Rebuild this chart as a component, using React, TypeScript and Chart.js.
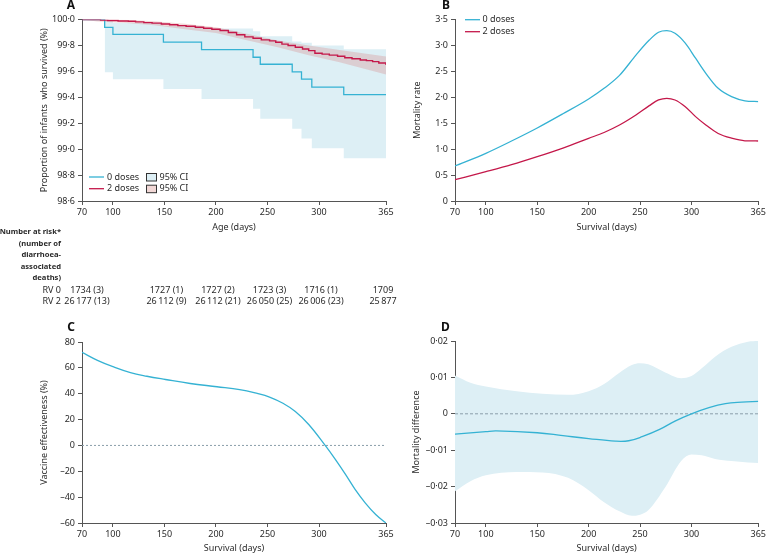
import React, { useEffect, useRef } from 'react';
import { Chart, registerables } from 'chart.js';
Chart.register(...registerables);

const FONT = "'Noto Sans', 'DejaVu Sans', sans-serif";
const BLUE = '#35b2d3';
const BLUE_FILL = '#ddeff5';
const RED = '#c4184a';
const RED_FILL = 'rgba(214, 128, 128, 0.3)';
const AXIS = '#555';
const TEXT = '#2a2a2a';
const ZERO = '#8a9eaa';

// shared x ticks (days)
const xTicks = [70, 100, 150, 200, 250, 300, 365];

// ---------- Panel A: Kaplan-Meier ----------
const aYTicks = [98.6, 98.8, 99.0, 99.2, 99.4, 99.6, 99.8, 100.0];
const km0Days = [70, 92, 100, 149, 186, 236, 243, 274, 283, 293, 324, 365];
const km0Surv = [100, 99.94, 99.886, 99.825, 99.768, 99.709, 99.655, 99.596, 99.54, 99.478, 99.42, 99.42];
const ci0Days = [92, 100, 149, 186, 236, 243, 274, 283, 293, 324, 365];
const ci0Lower = [99.594, 99.54, 99.463, 99.386, 99.311, 99.235, 99.158, 99.083, 99.006, 98.929, 98.929];
const ci0Upper = [99.99, 99.975, 99.95, 99.93, 99.91, 99.87, 99.83, 99.82, 99.8, 99.77, 99.77];
const km2Days = [70, 83, 88, 95, 105, 115, 122, 130, 138, 147, 155, 163, 171, 180, 188, 196, 204, 212, 220, 228, 236, 244, 252, 258, 264, 270, 277, 284, 290, 296, 303, 310, 318, 325, 332, 340, 346, 352, 358, 365];
const km2Surv = [100, 100, 99.995, 99.992, 99.989, 99.986, 99.982, 99.976, 99.972, 99.965, 99.96, 99.953, 99.948, 99.94, 99.932, 99.925, 99.915, 99.9, 99.882, 99.866, 99.855, 99.843, 99.835, 99.824, 99.81, 99.8, 99.786, 99.773, 99.76, 99.74, 99.733, 99.725, 99.716, 99.705, 99.697, 99.688, 99.683, 99.675, 99.664, 99.65];
const ci2Days = [70, 85, 110, 140, 170, 200, 230, 260, 290, 320, 365];
const ci2Upper = [100, 100, 99.998, 99.987, 99.968, 99.94, 99.89, 99.838, 99.8, 99.765, 99.715];
const ci2Lower = [100, 99.985, 99.975, 99.955, 99.925, 99.895, 99.84, 99.785, 99.725, 99.67, 99.575];

// number at risk table
const riskDays = [70, 150, 200, 250, 300, 365];
const riskRV0 = ['1734 (3)', '1727 (1)', '1727 (2)', '1723 (3)', '1716 (1)', '1709'];
const riskRV2 = ['26\u2009177 (13)', '26\u2009112 (9)', '26\u2009112 (21)', '26\u2009050 (25)', '26\u2009006 (23)', '25\u2009877'];
const riskHeader = ['Number at risk*', '(number of', 'diarrhoea-', 'associated', 'deaths)'];
const riskRowLabels = ['RV 0', 'RV 2'];

// ---------- Panel B: mortality rate ----------
const bYTicks = [0, 0.5, 1.0, 1.5, 2.0, 2.5, 3.0, 3.5];
const bDays = [70, 100, 125, 150, 175, 200, 215, 230, 246, 259, 268, 276, 284, 294, 304, 314, 326, 339, 352, 365];
const b0Dose = [0.674, 0.918, 1.155, 1.406, 1.68, 1.965, 2.17, 2.42, 2.81, 3.1, 3.25, 3.28, 3.23, 3.04, 2.75, 2.46, 2.17, 2.01, 1.93, 1.915];
const b2Dose = [0.411, 0.565, 0.7, 0.854, 1.02, 1.207, 1.32, 1.464, 1.657, 1.837, 1.946, 1.978, 1.946, 1.817, 1.625, 1.464, 1.3, 1.21, 1.16, 1.156];

// ---------- Panel C: vaccine effectiveness ----------
const cYTicks = [-60, -40, -20, 0, 20, 40, 60, 80];
const cDays = [70, 85, 100, 117, 133, 151, 175, 201, 223, 240, 252, 265, 277, 290, 306, 316, 326, 335, 345, 355, 365];
const cVE = [72, 65.8, 60.9, 56.3, 53.5, 51.0, 47.9, 45.4, 43.2, 40.2, 37.4, 32.6, 26.2, 16.2, 0, -11, -22.8, -34, -44.6, -53.4, -60];

// ---------- Panel D: mortality difference ----------
const dYTicks = [-0.03, -0.02, -0.01, 0, 0.01, 0.02];
const dDays = [70, 100, 110, 150, 175, 200, 226, 239, 252, 269, 284, 300, 317, 333, 349, 365];
const dDiff = [-0.0056, -0.0049, -0.0047, -0.0052, -0.006, -0.0068, -0.0075, -0.0074, -0.0063, -0.0043, -0.002, 0, 0.0017, 0.0028, 0.0032, 0.0034];
const dBandDays = [70, 85, 100, 130, 155, 180, 200, 215, 230, 242, 250, 258, 275, 290, 300, 310, 323, 339, 355, 365];
const dUpper = [0.0105, 0.0085, 0.0075, 0.0062, 0.0055, 0.0052, 0.0062, 0.0082, 0.0113, 0.0134, 0.0139, 0.0136, 0.0113, 0.0098, 0.0104, 0.0125, 0.0157, 0.0184, 0.0198, 0.02];
const dLower = [-0.0213, -0.0185, -0.0169, -0.016, -0.0161, -0.0176, -0.021, -0.0243, -0.0268, -0.028, -0.0277, -0.0265, -0.02, -0.013, -0.0112, -0.0114, -0.0124, -0.013, -0.0134, -0.0135];

const zeroDays = [70, 365];
const zeroVals = [0, 0];

const pts = (xs: number[], ys: number[]) => xs.map((x, i) => ({ x, y: ys[i] }));

const fmt = (v: number, d: number) => {
  if (Math.abs(v) < 1e-9) return '0';
  const s = Math.abs(v).toFixed(d).replace('.', '\u00b7');
  return (v < 0 ? '\u2013' : '') + s;
};

const tickFont = { family: FONT, size: 9 };

function xAxis(title: string, h: number, titlePad: number) {
  return {
    type: 'linear',
    min: 70,
    max: 365,
    afterBuildTicks: (s: any) => { s.ticks = xTicks.map((v) => ({ value: v })); },
    afterFit: (s: any) => { s.height = h; },
    grid: { display: true, drawOnChartArea: false, drawTicks: true, tickLength: 4, color: AXIS, tickColor: AXIS },
    border: { display: true, color: AXIS, width: 1 },
    ticks: { font: tickFont, color: TEXT, padding: 2, maxRotation: 0, autoSkip: false, callback: (v: any) => String(v) },
    title: { display: true, text: title, font: tickFont, color: TEXT, padding: { top: titlePad, bottom: 0 } },
  };
}

function yAxis(min: number, max: number, ticks: number[], d: number, title: string, w: number, titlePad: number) {
  return {
    type: 'linear',
    min,
    max,
    afterBuildTicks: (s: any) => { s.ticks = ticks.map((v) => ({ value: v })); },
    afterFit: (s: any) => { s.width = w; },
    grid: { display: true, drawOnChartArea: false, drawTicks: true, tickLength: 4, color: AXIS, tickColor: AXIS },
    border: { display: true, color: AXIS, width: 1 },
    ticks: { font: tickFont, color: TEXT, padding: 3, autoSkip: false, callback: (v: any) => fmt(Number(v), d) },
    title: { display: true, text: title, font: tickFont, color: TEXT, padding: { top: titlePad, bottom: 0 } },
  };
}

type LegendItem = { kind: 'line' | 'box'; color: string; fill?: string; text: string; x: number; y: number; tx: number };

function legendPlugin(items: LegendItem[]) {
  return {
    id: 'customLegend',
    afterDraw(chart: any) {
      const ctx = chart.ctx as CanvasRenderingContext2D;
      ctx.save();
      ctx.font = `9px ${FONT}`;
      ctx.textBaseline = 'middle';
      ctx.textAlign = 'left';
      for (const it of items) {
        if (it.kind === 'line') {
          ctx.strokeStyle = it.color;
          ctx.lineWidth = 1.3;
          ctx.beginPath();
          ctx.moveTo(it.x, it.y);
          ctx.lineTo(it.x + 15, it.y);
          ctx.stroke();
        } else {
          ctx.fillStyle = it.fill || '#fff';
          ctx.fillRect(it.x + 0.5, it.y - 3.5, 10, 7.5);
          ctx.strokeStyle = it.color;
          ctx.lineWidth = 1;
          ctx.strokeRect(it.x + 0.5, it.y - 3.5, 10, 7.5);
        }
        ctx.fillStyle = TEXT;
        ctx.fillText(it.text, it.tx, it.y);
      }
      ctx.restore();
    },
  };
}

const riskPlugin = {
  id: 'riskTable',
  afterDraw(chart: any) {
    const ctx = chart.ctx as CanvasRenderingContext2D;
    const xs = chart.scales.x;
    ctx.save();
    ctx.fillStyle = TEXT;
    ctx.textBaseline = 'middle';
    ctx.font = `bold 7.6px ${FONT}`;
    ctx.textAlign = 'right';
    riskHeader.forEach((t, i) => ctx.fillText(t, 61, 231.7 + i * 11.65));
    ctx.font = `9px ${FONT}`;
    riskRowLabels.forEach((t, i) => ctx.fillText(t, 61, 290 + i * 11.8));
    ctx.textAlign = 'center';
    const last = riskDays.length - 1;
    riskDays.forEach((d, i) => {
      const px = xs.getPixelForValue(d) + (i === 0 ? 5 : i === last ? -3 : 2);
      ctx.fillText(riskRV0[i], px, 290);
      ctx.fillText(riskRV2[i], px, 301.8);
    });
    ctx.restore();
  },
};

function baseOptions(padding: any, scales: any) {
  return {
    responsive: false,
    maintainAspectRatio: false,
    animation: false,
    devicePixelRatio: 1,
    events: [],
    layout: { padding },
    plugins: { legend: { display: false }, tooltip: { enabled: false }, title: { display: false } },
    elements: { point: { radius: 0 } },
    scales,
  };
}

function configA(): any {
  return {
    type: 'line',
    data: {
      datasets: [
        { data: pts(ci0Days, ci0Lower), borderWidth: 0, borderColor: 'transparent', stepped: 'before', fill: false, order: 5 },
        { data: pts(ci0Days, ci0Upper), borderWidth: 0, borderColor: 'transparent', stepped: 'before', fill: 0, backgroundColor: BLUE_FILL, order: 4 },
        { data: pts(ci2Days, ci2Lower), borderWidth: 0, borderColor: 'transparent', fill: false, order: 3 },
        { data: pts(ci2Days, ci2Upper), borderWidth: 0, borderColor: 'transparent', fill: 2, backgroundColor: RED_FILL, order: 2 },
        { data: pts(km0Days, km0Surv), borderColor: BLUE, borderWidth: 1.3, stepped: 'before', fill: false, order: 1 },
        { data: pts(km2Days, km2Surv), borderColor: RED, borderWidth: 1.4, stepped: 'before', fill: false, order: 0 },
      ],
    },
    options: baseOptions(
      { left: 0, right: 14, top: 19.5, bottom: 82 },
      {
        x: xAxis('Age (days)', 32, 2),
        y: yAxis(98.6, 100, aYTicks, 1, 'Proportion of infants  who survived (%)', 82, 38.6),
      }
    ),
    plugins: [
      legendPlugin([
        { kind: 'line', color: BLUE, text: '0 doses', x: 89, y: 177, tx: 107 },
        { kind: 'box', color: '#333', fill: BLUE_FILL, text: '95% CI', x: 146, y: 177, tx: 159.5 },
        { kind: 'line', color: RED, text: '2 doses', x: 89, y: 188.7, tx: 107 },
        { kind: 'box', color: '#333', fill: '#f2d8d6', text: '95% CI', x: 146, y: 188.7, tx: 159.5 },
      ]),
      riskPlugin,
    ],
  };
}

function configB(): any {
  return {
    type: 'line',
    data: {
      datasets: [
        { data: pts(bDays, b0Dose), borderColor: BLUE, borderWidth: 1.3, cubicInterpolationMode: 'monotone', fill: false },
        { data: pts(bDays, b2Dose), borderColor: RED, borderWidth: 1.3, cubicInterpolationMode: 'monotone', fill: false },
      ],
    },
    options: baseOptions(
      { left: 0, right: 8, top: 19.3, bottom: 7 },
      {
        x: xAxis('Survival (days)', 32, 2),
        y: yAxis(0, 3.5, bYTicks, 1, 'Mortality rate', 71, 27.6),
      }
    ),
    plugins: [
      legendPlugin([
        { kind: 'line', color: BLUE, text: '0 doses', x: 81, y: 19.7, tx: 98.5 },
        { kind: 'line', color: RED, text: '2 doses', x: 81, y: 31.7, tx: 98.5 },
      ]),
    ],
  };
}

function configC(): any {
  return {
    type: 'line',
    data: {
      datasets: [
        { data: pts(zeroDays, zeroVals), borderColor: ZERO, borderWidth: 1, borderDash: [2, 2], fill: false, order: 1 },
        { data: pts(cDays, cVE), borderColor: BLUE, borderWidth: 1.3, tension: 0.4, fill: false, order: 0 },
      ],
    },
    options: baseOptions(
      { left: 0, right: 14, top: 30, bottom: 0 },
      {
        x: xAxis('Survival (days)', 31, 0),
        y: yAxis(-60, 80, cYTicks, 0, 'Vaccine effectiveness (%)', 82, 38.6),
      }
    ),
  };
}

function configD(): any {
  return {
    type: 'line',
    data: {
      datasets: [
        { data: pts(dBandDays, dLower), borderWidth: 0, borderColor: 'transparent', cubicInterpolationMode: 'monotone', fill: false, order: 4 },
        { data: pts(dBandDays, dUpper), borderWidth: 0, borderColor: 'transparent', cubicInterpolationMode: 'monotone', fill: 0, backgroundColor: BLUE_FILL, order: 3 },
        { data: pts(zeroDays, zeroVals), borderColor: ZERO, borderWidth: 1, borderDash: [3, 2], fill: false, order: 1 },
        { data: pts(dDays, dDiff), borderColor: BLUE, borderWidth: 1.3, tension: 0.4, fill: false, order: 0 },
      ],
    },
    options: baseOptions(
      { left: 0, right: 8, top: 29, bottom: 0 },
      {
        x: xAxis('Survival (days)', 31, 0),
        y: yAxis(-0.03, 0.02, dYTicks, 2, 'Mortality difference', 71, 27),
      }
    ),
  };
}

function Panel({ left, top, width, height, make }: { left: number; top: number; width: number; height: number; make: () => any }) {
  const ref = useRef<HTMLCanvasElement>(null);
  useEffect(() => {
    const chart = new Chart(ref.current as HTMLCanvasElement, make());
    return () => chart.destroy();
  }, []);
  return (
    <div style={{ position: 'absolute', left, top, width, height }}>
      <canvas ref={ref} width={width} height={height} style={{ width, height, display: 'block' }} />
    </div>
  );
}

function Letter({ x, y, t }: { x: number; y: number; t: string }) {
  return (
    <div
      style={{
        position: 'absolute',
        left: x,
        top: y,
        transform: 'translate(-50%, -50%)',
        font: `bold 12px ${FONT}`,
        color: '#111',
        lineHeight: '12px',
      }}
    >
      {t}
    </div>
  );
}

export default function App() {
  return (
    <div style={{ position: 'absolute', left: 0, top: 0, width: 768, height: 554, background: '#fff', overflow: 'hidden' }}>
      <Panel left={0} top={0} width={400} height={315} make={configA} />
      <Panel left={384} top={0} width={384} height={240} make={configB} />
      <Panel left={0} top={312} width={400} height={242} make={configC} />
      <Panel left={384} top={312} width={384} height={242} make={configD} />
      <Letter x={71} y={4.5} t="A" />
      <Letter x={446} y={4.5} t="B" />
      <Letter x={71} y={327} t="C" />
      <Letter x={445.5} y={327} t="D" />
    </div>
  );
}
